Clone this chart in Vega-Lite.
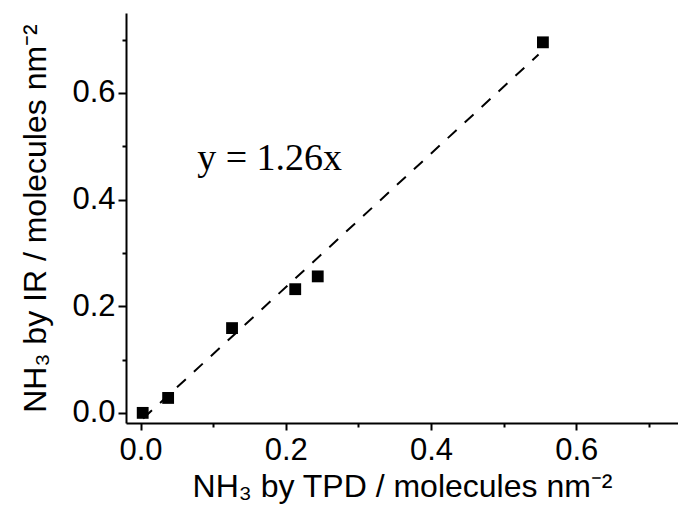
{
  "$schema": "https://vega.github.io/schema/vega-lite/v6.json",
  "width": 552,
  "height": 410,
  "autosize": {"type": "none"},
  "padding": {"left": 126, "top": 13, "right": 0, "bottom": 92},
  "background": "white",
  "config": {"view": {"stroke": null}, "font": "Liberation Sans"},
  "datasets": {
    "points": [
      {"tpd": 0.003, "ir": 0.0},
      {"tpd": 0.038, "ir": 0.028},
      {"tpd": 0.126, "ir": 0.159},
      {"tpd": 0.213, "ir": 0.232},
      {"tpd": 0.244, "ir": 0.256},
      {"tpd": 0.554, "ir": 0.695}
    ],
    "fit": [
      {"tpd": 0.0036, "ir": -0.0105},
      {"tpd": 0.548, "ir": 0.672}
    ],
    "label": [
      {"tpd": 0.078, "ir": 0.455, "text": "y = 1.26x"}
    ]
  },
  "layer": [
    {
      "data": {"name": "fit"},
      "mark": {"type": "line", "color": "black", "strokeWidth": 2, "strokeDash": [12, 11]},
      "encoding": {
        "x": {
          "field": "tpd", "type": "quantitative",
          "scale": {"domain": [-0.02, 0.74], "nice": false, "zero": false},
          "axis": {
            "values": [0, 0.1, 0.2, 0.3, 0.4, 0.5, 0.6, 0.7],
            "labelExpr": "round(datum.value*10)%2==0 ? format(datum.value,'.1f') : ''",
            "tickSize": {"condition": {"test": "round(datum.value*10)%2==1", "value": 4}, "value": 7},
            "grid": false,
            "domainColor": "black", "domainWidth": 2,
            "tickColor": "black", "tickWidth": 2,
            "labelFont": "Liberation Sans", "labelFontSize": 31, "labelColor": "black",
            "labelPadding": 5,
            "title": "NH₃ by TPD / molecules nm⁻²",
            "titleFont": "Liberation Sans", "titleFontSize": 32, "titleFontWeight": "normal",
            "titleColor": "black", "titlePadding": 6
          }
        },
        "y": {
          "field": "ir", "type": "quantitative",
          "scale": {"domain": [-0.019, 0.75], "nice": false, "zero": false},
          "axis": {
            "values": [0, 0.1, 0.2, 0.3, 0.4, 0.5, 0.6, 0.7],
            "labelExpr": "round(datum.value*10)%2==0 ? format(datum.value,'.1f') : ''",
            "tickSize": {"condition": {"test": "round(datum.value*10)%2==1", "value": 4}, "value": 8},
            "grid": false,
            "domainColor": "black", "domainWidth": 2,
            "tickColor": "black", "tickWidth": 2,
            "labelFont": "Liberation Sans", "labelFontSize": 31, "labelColor": "black",
            "labelPadding": 3,
            "title": "NH₃ by IR / molecules nm⁻²",
            "titleFont": "Liberation Sans", "titleFontSize": 32, "titleFontWeight": "normal",
            "titleColor": "black", "titlePadding": 19
          }
        }
      }
    },
    {
      "data": {"name": "points"},
      "mark": {"type": "point", "shape": "square", "filled": true, "color": "black", "opacity": 1, "size": 140},
      "encoding": {
        "x": {"field": "tpd", "type": "quantitative"},
        "y": {"field": "ir", "type": "quantitative"}
      }
    },
    {
      "data": {"name": "label"},
      "mark": {"type": "text", "font": "Liberation Serif", "fontSize": 38, "align": "left", "baseline": "alphabetic", "color": "black"},
      "encoding": {
        "x": {"field": "tpd", "type": "quantitative"},
        "y": {"field": "ir", "type": "quantitative"},
        "text": {"field": "text"}
      }
    }
  ]
}
